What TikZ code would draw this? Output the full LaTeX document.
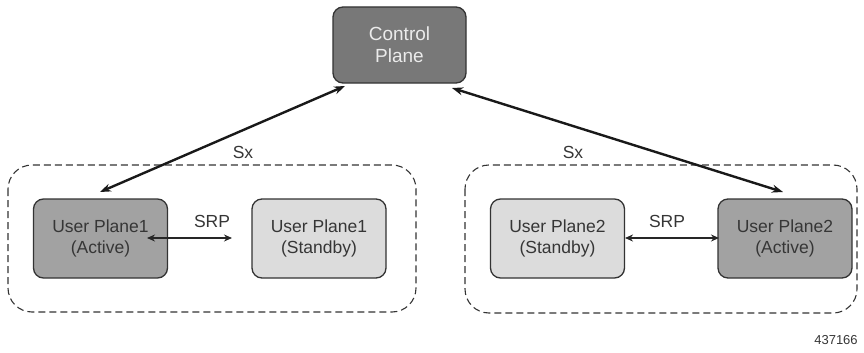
\documentclass[tikz,border=0pt]{standalone}
\usepackage{fontspec}
\setmainfont{Liberation Sans}
\usetikzlibrary{arrows.meta}
\definecolor{cpfill}{HTML}{787878}
\definecolor{actfill}{HTML}{A2A2A2}
\definecolor{stbfill}{HTML}{DCDCDC}
\definecolor{edge}{HTML}{333333}
\definecolor{txt}{HTML}{363636}
\begin{document}
\begin{tikzpicture}[x=1pt,y=-1pt,
  box/.style={draw=edge, line width=1.3pt, rounded corners=10pt, minimum width=134pt, minimum height=79pt, align=center, inner sep=0pt, font=\fontsize{17.5}{21}\selectfont, text=txt},
  grp/.style={draw=edge, line width=1.1pt, dash pattern=on 7pt off 4pt, rounded corners=24pt},
  sx/.style={line width=2.4pt, {Stealth[length=11pt,width=8pt]}-{Stealth[length=11pt,width=8pt]}, draw=black!90},
  srp/.style={line width=1.4pt, {Stealth[length=8pt,width=7pt]}-{Stealth[length=8pt,width=7pt]}, draw=black!85},
  lbl/.style={font=\fontsize{17.5}{21}\selectfont, text=txt, inner sep=0pt}]
\useasboundingbox (0,0) rectangle (864,353);
\draw[grp] (8,165) rectangle (416,312);
\draw[grp] (465,165) rectangle (857,313);
\node[box, fill=cpfill, text=white!92!black, minimum width=133pt, minimum height=76pt, font=\fontsize{19}{22}\selectfont] (cp) at (399.5,45) {Control\\Plane};
\node[box, fill=actfill] (u1a) at (100.5,238.5) {User Plane1\\(Active)};
\node[box, fill=stbfill] (u1s) at (319,238.5) {User Plane1\\(Standby)};
\node[box, fill=stbfill] (u2s) at (557.5,238.5) {User Plane2\\(Standby)};
\node[box, fill=actfill] (u2a) at (785,238.5) {User Plane2\\(Active)};
\coordinate (cpl) at (345,86);
\coordinate (cpr) at (452,88);
\coordinate (u1top) at (100,192);
\coordinate (u2top) at (783,192);
\coordinate (srp1a) at (147,238);
\coordinate (srp1b) at (232,238);
\coordinate (srp2a) at (625,238);
\coordinate (srp2b) at (719,238);
\draw[sx] (u1top) -- (cpl);
\draw[sx] (cpr) -- (u2top);
\draw[srp] (srp1a) -- (srp1b);
\draw[srp] (srp2a) -- (srp2b);
\node[lbl] (sx1) at (243,152) {Sx};
\node[lbl] (sx2) at (573,152) {Sx};
\node[lbl] (srpl1) at (212,221) {SRP};
\node[lbl] (srpl2) at (667,221) {SRP};
\node[font=\fontsize{13}{15}\selectfont, text=txt, inner sep=0pt] (num) at (836,340) {437166};
\end{tikzpicture}
\end{document}
